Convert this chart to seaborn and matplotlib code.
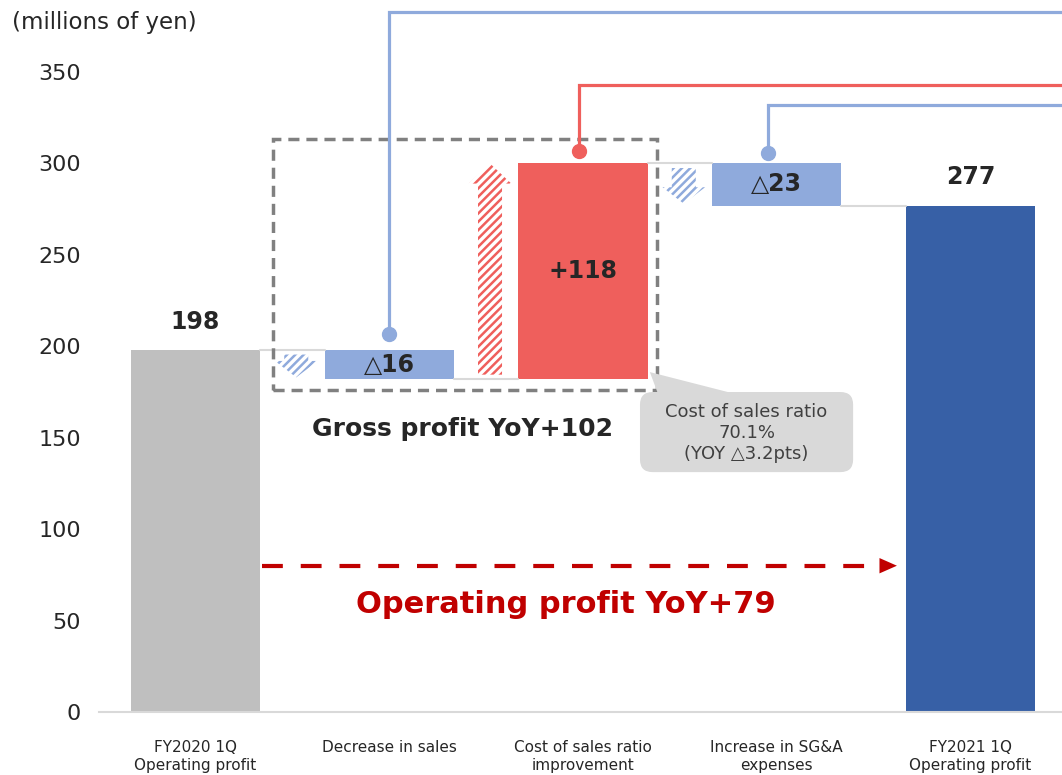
import seaborn as sns
import matplotlib.pyplot as plt
import pandas as pd
from matplotlib.patches import Polygon, Rectangle, FancyBboxPatch

# data (millions of yen)
categories = ["FY2020 1Q\nOperating profit", "Decrease in sales",
              "Cost of sales ratio\nimprovement", "Increase in SG&A\nexpenses",
              "FY2021 1Q\nOperating profit"]
start_value = 198
changes = [-16, 118, -23]
end_value = 277
bar_labels = ["198", "\u25b316", "+118", "\u25b323", "277"]
bar_colors = ["#bfbfbf", "#8faadc", "#ef5f5c", "#8faadc", "#3760a6"]
y_ticks = [0, 50, 100, 150, 200, 250, 300, 350]

# waterfall levels
levels = [start_value]
for c in changes:
    levels.append(levels[-1] + c)
bottoms = [0] + [min(levels[i], levels[i + 1]) for i in range(len(changes))] + [0]
tops = [start_value] + [max(levels[i], levels[i + 1]) for i in range(len(changes))] + [end_value]

df = pd.DataFrame({"category": categories, "top": tops})

sns.set_style("white")
plt.rcParams["font.family"] = ["DejaVu Sans"]
plt.rcParams["hatch.linewidth"] = 1.8
TXT = "#262626"

fig = plt.figure(figsize=(10.62, 7.75), dpi=100)
ax = fig.add_axes([99 / 1062, 63 / 775, 963 / 1062, 712 / 775])

bw = 0.666
sns.barplot(data=df, x="category", y="top", hue="category", palette=bar_colors,
            legend=False, width=bw, saturation=1, ax=ax)
for i, p in enumerate(ax.patches):
    p.set_y(bottoms[i])
    p.set_height(tops[i] - bottoms[i])
    p.set_linewidth(0)

ax.set_xlim(-0.498, 4.472)
ax.set_ylim(0, 389.4)
ax.set_xlabel("")
ax.set_ylabel("")
ax.set_yticks(y_ticks)
ax.tick_params(axis="y", length=0, pad=13, labelsize=16, labelcolor=TXT)
ax.tick_params(axis="x", length=0, pad=20, labelsize=11, labelcolor=TXT)
for t in ax.get_xticklabels():
    t.set_linespacing(1.3)
for s in ["left", "right", "top"]:
    ax.spines[s].set_visible(False)
ax.spines["bottom"].set_color("#d9d9d9")
ax.spines["bottom"].set_linewidth(1.5)

# thin connectors between bars
conn = [start_value, levels[1], levels[2], end_value]
for i, lv in enumerate(conn):
    ax.plot([i + bw / 2, i + 1 - bw / 2], [lv, lv], color="#d9d9d9", lw=1.5, zorder=1)

# value labels
for i, lab in enumerate(bar_labels):
    if i in (0, len(bar_labels) - 1):
        ax.text(i, tops[i] + 15.5, lab, ha="center", va="center", fontsize=17,
                fontweight="bold", color=TXT)
    else:
        ax.text(i, (tops[i] + bottoms[i]) / 2, lab, ha="center", va="center",
                fontsize=17, fontweight="bold", color=TXT)

# hatched arrows between bars
for k, c in enumerate(changes):
    x = k + 1 - 0.48
    col = "#ef5f5c" if c > 0 else "#8faadc"
    sgn = 1 if c > 0 else -1
    y0 = levels[k] + sgn * 2.5
    y1 = levels[k + 1] + (0 if c > 0 else 1)
    hl = 11 if c > 0 else 9
    hw, bwid = 0.11, 0.062
    yh = y1 - sgn * hl
    pts = [(x - bwid, y0), (x + bwid, y0), (x + bwid, yh), (x + hw, yh),
           (x, y1), (x - hw, yh), (x - bwid, yh)]
    ax.add_patch(Polygon(pts, closed=True, facecolor="white", edgecolor=col,
                         hatch="////", linewidth=0, zorder=2))

# dashed box around gross profit items
ax.add_patch(Rectangle((0.40, 176), 1.982, 137.3, fill=False, edgecolor="#808080",
                       lw=2.5, linestyle=(0, (3.2, 2.0)), zorder=3))
ax.text(1.38, 155, "Gross profit YoY+102", ha="center", va="center",
        fontsize=18, fontweight="bold", color=TXT)

# leader lines with dots going off to the right
leaders = [(1.0, 207, 383, "#8faadc"), (1.98, 307, 343, "#ef5f5c"), (2.955, 305.5, 332, "#8faadc")]
for x, yd, yt, col in leaders:
    ax.plot([x, x, 5], [yd, yt, yt], color=col, lw=2.3, zorder=4, solid_joinstyle="miter")
    ax.plot(x, yd, "o", color=col, markersize=10, zorder=5)

# callout
ax.add_patch(Polygon([(2.345, 185.9), (2.387, 174), (2.784, 174)], closed=True,
                     facecolor="#d9d9d9", edgecolor="none", zorder=3))
ax.add_patch(FancyBboxPatch((2.294, 131.2), 1.10, 43.8,
                            boxstyle="round,pad=0,rounding_size=0.065",
                            mutation_aspect=106, facecolor="#d9d9d9",
                            edgecolor="none", zorder=3))
ax.text(2.844, 152.5, "Cost of sales ratio\n70.1%\n(YOY \u25b33.2pts)", ha="center",
        va="center", fontsize=13, color="#404040", linespacing=1.2, zorder=4)

# operating profit arrow
ax.plot([0.344, 3.53], [80, 80], color="#c00000", lw=3, linestyle=(0, (5, 4.3)), zorder=3)
ax.add_patch(Polygon([(3.53, 84.2), (3.62, 80), (3.53, 75.8)], closed=True,
                     facecolor="#c00000", edgecolor="none", zorder=3))
ax.text(1.91, 59, "Operating profit YoY+79", ha="center", va="center",
        fontsize=22, fontweight="bold", color="#c00000")

fig.text(12 / 1062, 1 - 22 / 775, "(millions of yen)", ha="left", va="center",
         fontsize=16.5, color=TXT)

fig.savefig("out.png", dpi=100)
